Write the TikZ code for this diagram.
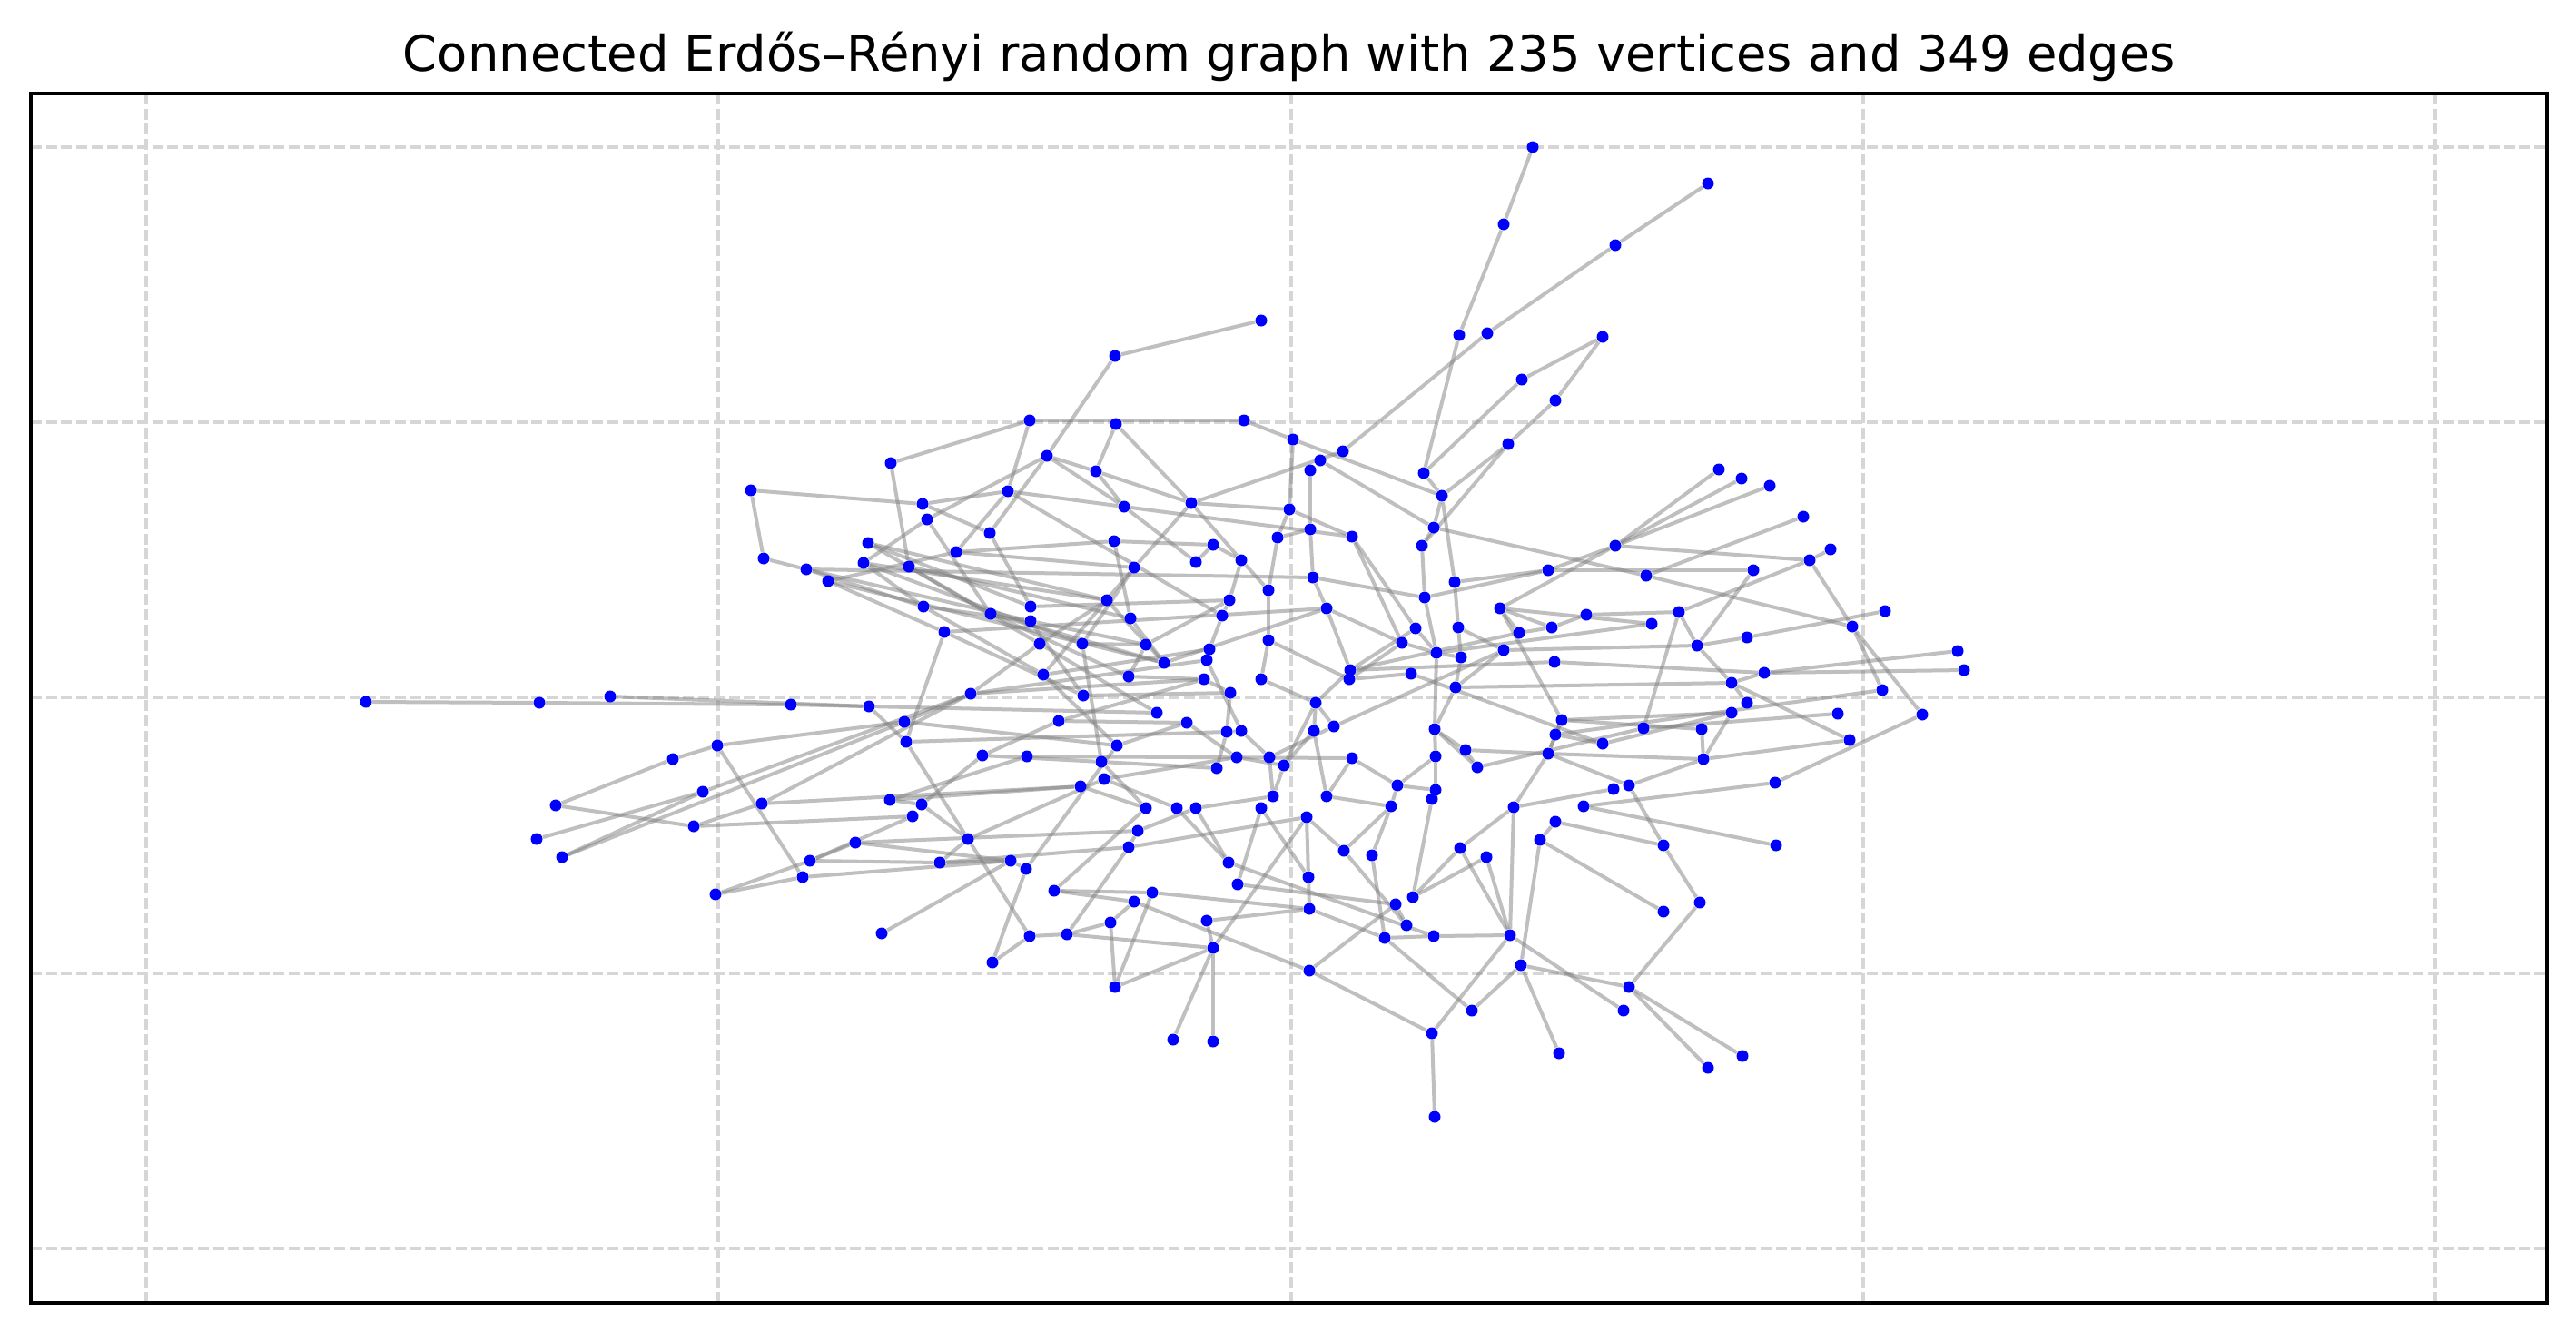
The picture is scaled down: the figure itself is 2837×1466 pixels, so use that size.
\documentclass[tikz,border=0pt]{standalone}
\usepackage{fontspec}
\setmainfont{DejaVu Sans}
\pgfdeclarelayer{gridlayer}
\pgfdeclarelayer{edgelayer}
\pgfsetlayers{gridlayer,edgelayer,main}
\definecolor{vblue}{RGB}{0,0,255}
\definecolor{egray}{RGB}{128,128,128}
\definecolor{ggray}{RGB}{214,214,214}
\begin{document}
\begin{tikzpicture}[x=0.01cm,y=-0.01cm,
  vtx/.style={circle,fill=vblue,draw=none,inner sep=0pt,minimum size=0.13cm},
  edgeline/.style={draw=egray,opacity=0.5,line width=0.04cm},
  gridline/.style={draw=ggray,line width=0.04cm,dash pattern=on 0.12cm off 0.047cm},
  axesframe/.style={draw=black,line width=0.035cm},
  titletext/.style={font=\fontsize{15.45}{18}\selectfont,inner sep=0pt,anchor=base}]
\useasboundingbox (0,0) rectangle (2837,1466);
\begin{pgfonlayer}{gridlayer}
\fill[white] (0,0) rectangle (2837,1466);
\foreach \gx in {160.7,791,1421.7,2051.7,2682} \draw[gridline] (\gx,103) -- (\gx,1435);
\foreach \gy in {161.7,464.7,768.3,1071.7,1375} \draw[gridline] (34,\gy) -- (2805,\gy);
\end{pgfonlayer}
\foreach \i/\x/\y in {1/981/510, 2/1134/463, 3/1228/392, 4/1229/467, 5/1153/502, 6/1207/519, 7/1688/162, 8/1656/247, 9/1607/369, 10/1638/367, 11/1676/418, 12/1713/441, 13/1661/489, 14/1389/353, 15/1370/463, 16/1424/484, 17/1479/497, 18/1454/507, 19/1443/518, 20/1568/521, 21/1881/202, 22/1779/270, 23/1765/371, 24/1893/517, 25/403/773, 26/594/774, 27/672/767, 28/827/540, 29/841/615, 30/790/821, 31/741/836, 32/774/872, 33/612/887, 34/839/885, 35/591/924, 36/619/944, 37/764/910, 38/788/985, 39/1016/555, 40/1021/572, 41/1110/541, 42/1238/558, 43/1090/587, 44/1227/596, 45/956/598, 46/888/627, 47/951/620, 48/1001/624, 49/1053/608, 50/912/640, 51/1249/625, 52/1017/668, 53/1091/676, 54/1135/668, 55/1135/684, 56/1219/661, 57/1245/681, 58/1040/696, 59/1145/709, 60/1192/709, 61/1262/710, 62/1282/730, 63/1149/743, 64/1243/745, 65/1069/764, 66/1193/766, 67/871/776, 68/957/778, 69/1274/785, 70/996/795, 71/1166/794, 72/998/817, 73/1230/821, 74/1082/832, 75/1131/833, 76/1213/839, 77/1216/858, 78/1190/866, 79/980/881, 80/1015/886, 81/1262/890, 82/1312/554, 83/1420/561, 84/1443/583, 85/1489/591, 86/1588/546, 87/1579/581, 88/1566/601, 89/1407/592, 90/1336/600, 91/1317/619, 92/1367/617, 93/1446/636, 94/1397/650, 95/1705/628, 96/1602/641, 97/1569/658, 98/1354/661, 99/1461/670, 100/1652/670, 101/1346/678, 102/1559/692, 103/1606/691, 104/1673/697, 105/1709/691, 106/1544/708, 107/1397/705, 108/1332/715, 109/1329/727, 110/1582/719, 111/1609/724, 112/1656/716, 113/1712/729, 114/1487/738, 115/1486/748, 116/1554/742, 117/1326/748, 118/1389/748, 119/1355/763, 120/1603/757, 121/1449/774, 122/1307/796, 123/1720/793, 124/1469/800, 125/1447/805, 126/1351/806, 127/1367/805, 128/1580/803, 129/1713/809, 130/1614/826, 131/1705/830, 132/1581/833, 133/1362/834, 134/1398/834, 135/1489/835, 136/1414/843, 137/1340/846, 138/1627/845, 139/1539/865, 140/1581/870, 141/1577/880, 142/1402/877, 143/1461/877, 144/1532/888, 145/1667/889, 146/1296/890, 147/1317/890, 148/1389/890, 149/1918/527, 150/1949/535, 151/1986/569, 152/1779/601, 153/2016/605, 154/1993/617, 155/1931/628, 156/1813/634, 157/1747/677, 158/1849/674, 159/1819/687, 160/2076/673, 161/2040/690, 162/1924/702, 163/1869/711, 164/2156/717, 165/2163/738, 166/1943/741, 167/1907/752, 168/2073/760, 169/1924/774, 170/1907/785, 171/2024/786, 172/2117/787, 173/1810/802, 174/1874/803, 175/1765/819, 176/2037/815, 177/1876/836, 178/1955/862, 179/1794/865, 180/1777/869, 181/1744/888, 182/1005/899, 183/942/928, 184/892/948, 185/884/966, 186/1035/950, 187/1066/924, 188/1113/948, 189/1130/957, 190/1253/915, 191/1243/933, 192/1161/981, 193/1249/993, 194/1269/983, 195/1223/1016, 196/971/1028, 197/1134/1031, 198/1175/1029, 199/1093/1060, 200/1228/1087, 201/1292/1145, 202/1439/900, 203/1353/950, 204/1363/974, 205/1441/966, 206/1442/1001, 207/1329/1014, 208/1336/1044, 209/1442/1069, 210/1336/1147, 211/1480/937, 212/1511/942, 213/1537/996, 214/1556/988, 215/1549/1019, 216/1525/1033, 217/1579/1031, 218/1608/934, 219/1637/944, 220/1696/925, 221/1713/905, 222/1663/1030, 223/1675/1063, 224/1621/1113, 225/1577/1138, 226/1580/1230, 227/1717/1160, 228/1832/931, 229/1956/931, 230/1872/994, 231/1832/1004, 232/1794/1087, 233/1788/1113, 234/1919/1163, 235/1881/1176}
  \node[vtx] (v\i) at (\x,\y) {};
\begin{pgfonlayer}{edgelayer}
\foreach \a/\b in {1/2,2/15,3/14,3/5,5/6,4/6,4/82,2/41,1/48,5/40,5/43,5/42,6/42,6/82,7/8,8/9,9/20,10/22,21/22,10/17,11/23,11/20,12/23,12/13,13/86,13/88,15/16,16/86,16/83,17/82,18/87,24/152,19/84,
25/26,26/67,27/68,28/29,28/39,29/46,30/70,30/31,31/33,32/35,32/36,36/70,34/65,34/37,32/65,33/37,
39/41,40/47,40/53,41/49,41/101,43/54,44/90,44/57,51/82,51/63,45/54,46/55,49/50,50/58,47/52,48/53,52/55,55/66,56/59,51/60,60/76,60/61,61/98,61/64,59/65,65/70,58/72,72/187,71/117,71/74,71/122,74/80,78/79,34/78,76/81,42/91,67/68,68/69,63/73,
20/86,86/96,87/156,95/97,95/96,100/104,100/123,104/105,104/114,102/114,106/115,110/128,96/103,103/111,111/120,94/107,107/118,89/94,83/89,84/93,93/99,82/92,90/91,92/98,98/101,101/108,108/109,119/126,121/125,125/143,124/134,112/124,123/129,129/131,130/131,126/137,134/142,128/132,145/222,88/97,97/110,113/114,113/166,165/166,
149/152,150/152,152/154,151/156,156/161,153/154,154/161,154/158,155/163,157/158,158/163,158/173,162/163,160/162,163/167,167/169,167/176,166/167,164/166,161/168,161/172,172/178,171/173,174/177,170/177,176/177,177/179,178/181,170/175,129/168,
37/182,30/185,38/184,38/185,184/186,185/188,182/184,183/184,77/187,187/197,186/188,188/196,189/199,73/189,81/192,192/193,195/198,197/198,195/200,200/208,198/208,
202/205,205/206,202/208,148/205,148/204,147/203,206/207,207/208,208/210,209/213,209/225,193/209,201/208,211/215,212/216,144/212,214/218,214/219,141/214,216/217,217/222,218/222,145/218,222/225,223/224,223/227,220/223,216/224,220/221,225/226,
228/230,230/232,232/234,232/235,223/232,222/233,220/231,221/228,179/228,181/229,
53/62,62/99,75/79,75/135,42/85,85/106,116/175,115/116,109/127,127/134,122/133,133/136,135/139,136/142,121/136,128/138,138/173,139/140,132/140,77/146,146/203,100/159,110/159,183/190,147/190,186/191,191/202,192/194,194/206,
45/59,47/60,48/57,44/49,52/63,53/64,55/61,58/66,58/99,59/69,63/108,65/117,66/119,68/72,70/73,72/126,74/76,76/137,77/133,78/81,79/80,80/187,73/122,64/117,57/62,56/62,39/43,41/42,
82/83,83/85,84/89,85/102,86/87,87/88,90/92,92/94,93/97,99/106,99/114,100/105,102/110,103/112,106/110,107/115,110/111,112/120,114/121,118/121,120/128,121/124,123/131,125/136,128/130,130/138,131/145,132/139,135/143,139/144,142/147,143/144,126/127,117/119,
105/157,100/152,95/152,95/155,112/163,120/167,123/174,129/175,131/179,131/177,123/170,145/180,
203/217,204/213,202/211,206/216,144/211,213/215,219/222,183/188,186/187,188/189,190/191,191/198,193/195,194/200,197/199,
45/56,50/62,54/98,46/52,47/56,49/51,65/109,46/93}
  \draw[edgeline] (v\a) -- (v\b);
\end{pgfonlayer}
\draw[axesframe] (34,103) rectangle (2805,1435);
\node[titletext] (title) at (1420,78) {Connected Erdős–Rényi random graph with 235 vertices and 349 edges};
\end{tikzpicture}
\end{document}
